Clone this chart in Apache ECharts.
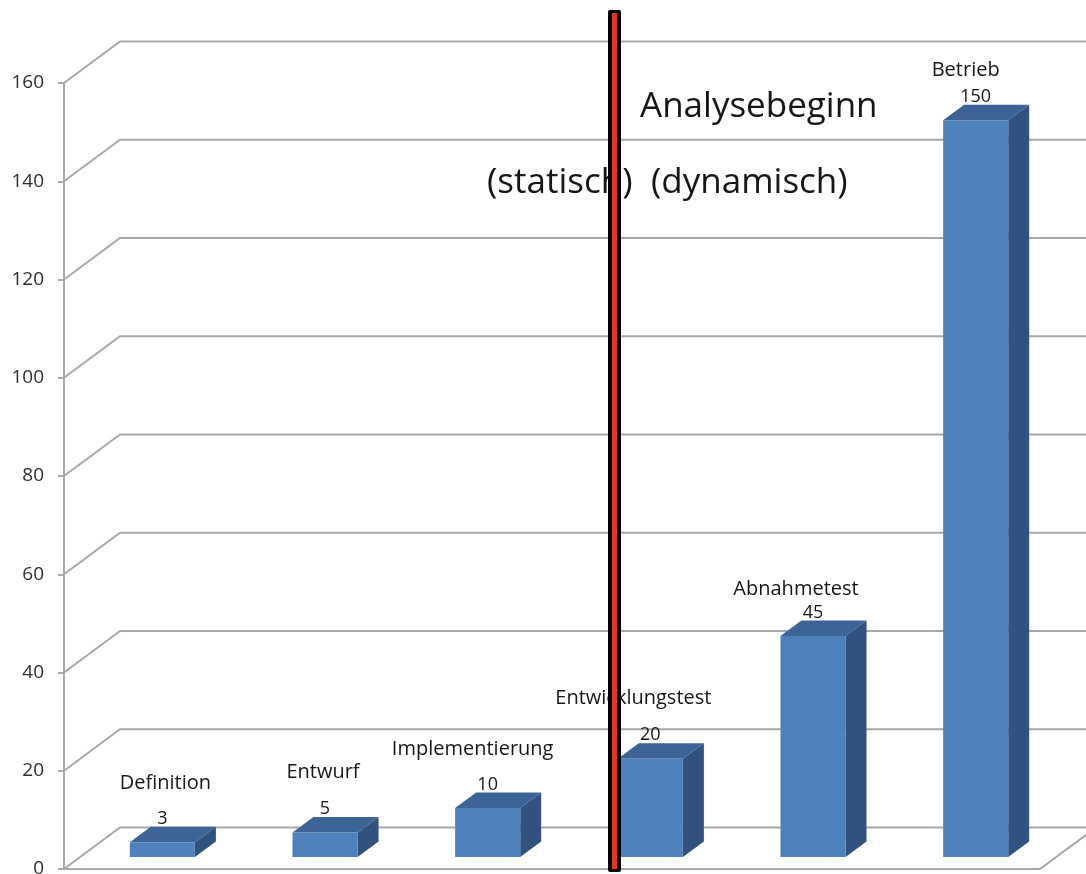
<!DOCTYPE html>
<html>
<head>
<meta charset="utf-8">
<script src="https://cdn.jsdelivr.net/npm/echarts@6/dist/echarts.min.js"></script>
<style>
  html, body { margin: 0; padding: 0; background: #ffffff; }
  #chart { width: 1086px; height: 874px; }
</style>
</head>
<body>
<div id="chart"></div>
<script>
// Fehlerbehebungskosten je Phase
const categories = ['Definition', 'Entwurf', 'Implementierung', 'Entwicklungstest', 'Abnahmetest', 'Betrieb'];
const costValues = [3, 5, 10, 20, 45, 150];
const yTicks = [0, 20, 40, 60, 80, 100, 120, 140, 160];

// Pseudo-3D layout (pixels)
const FLOOR_DX = 56, FLOOR_DY = 41.5;     // depth of the back wall
const BAR_SHIFT_X = 17, BAR_SHIFT_Y = 12;  // bars stand a bit behind the front edge
const BAR_DX = 21, BAR_DY = 15.5;          // bar depth
const BAR_RATIO = 0.4;                      // bar width / category width
// category label placement relative to the value label
const LABEL_NUDGE = [[3, -35], [-2, -36.5], [-15, -35], [-17, -37], [-17, -23.5], [-10, -26]];

const GRID_COLOR = '#a8a8a8';
const TEXT_COLOR = '#161616';
const FONT = '"Open Sans", "Noto Sans", sans-serif';

const chart = echarts.init(document.getElementById('chart'), null, { renderer: 'canvas' });

function renderWalls(params, api) {
  const cs = params.coordSys;
  const v = api.value(0);
  const y = api.coord([0, v])[1];
  const x0 = cs.x;
  const backY = y - FLOOR_DY;
  const children = [{
    type: 'polyline',
    shape: { points: [[x0, y], [x0 + FLOOR_DX, backY], [x0 + cs.width + FLOOR_DX + 40, backY]] },
    style: { stroke: GRID_COLOR, lineWidth: 2, fill: null }
  }];
  if (v === 0) {
    children.push({
      type: 'polyline',
      shape: { points: [[x0, y], [x0 + cs.width, y], [x0 + cs.width + FLOOR_DX, backY]] },
      style: { stroke: GRID_COLOR, lineWidth: 2, fill: null }
    });
  }
  return { type: 'group', children: children };
}

function renderBars(params, api) {
  const idx = api.value(0);
  const val = api.value(1);
  const base = api.coord([idx, 0]);
  const top = api.coord([idx, val]);
  const bw = api.size([1, 0])[0] * BAR_RATIO;
  const cx = base[0] + BAR_SHIFT_X;
  const xl = cx - bw / 2, xr = cx + bw / 2;
  const yb = base[1] - BAR_SHIFT_Y;
  const yt = top[1] - BAR_SHIFT_Y;
  const labelY = yt - BAR_DY - 8;
  const nudge = LABEL_NUDGE[idx];
  return {
    type: 'group',
    children: [
      { type: 'polygon',
        shape: { points: [[xr, yb], [xr + BAR_DX, yb - BAR_DY], [xr + BAR_DX, yt - BAR_DY], [xr, yt]] },
        style: { fill: '#31527e' } },
      { type: 'polygon',
        shape: { points: [[xl, yt], [xl + BAR_DX, yt - BAR_DY], [xr + BAR_DX, yt - BAR_DY], [xr, yt]] },
        style: { fill: '#3d6496' } },
      { type: 'rect',
        shape: { x: xl, y: yt, width: bw, height: yb - yt },
        style: { fill: '#4f81bd' } },
      { type: 'text',
        x: cx, y: labelY,
        style: { text: String(costValues[idx]), fill: TEXT_COLOR, font: '18px ' + FONT,
                 align: 'center', verticalAlign: 'middle', textAlign: 'center', textVerticalAlign: 'middle' } },
      { type: 'text',
        x: cx + nudge[0], y: labelY + nudge[1],
        style: { text: categories[idx], fill: TEXT_COLOR, font: '20px ' + FONT,
                 align: 'center', verticalAlign: 'middle', textAlign: 'center', textVerticalAlign: 'middle' } }
    ]
  };
}

const option = {
  backgroundColor: '#ffffff',
  animation: false,
  grid: { left: 64, top: 83, width: 976, height: 786, outerBoundsMode: 'none', containLabel: false },
  xAxis: {
    type: 'category',
    data: categories,
    axisLine: { show: false },
    axisTick: { show: false },
    axisLabel: { show: false },
    splitLine: { show: false }
  },
  yAxis: {
    type: 'value',
    min: 0, max: 160, interval: 20,
    axisLine: { show: true, lineStyle: { color: GRID_COLOR, width: 2 } },
    axisTick: { show: true, length: 6, lineStyle: { color: GRID_COLOR, width: 2 } },
    axisLabel: { color: '#2e2e2e', fontSize: 19, fontFamily: FONT, margin: 20 },
    splitLine: { show: false }
  },
  series: [
    {
      type: 'custom',
      name: 'walls',
      clip: false,
      silent: true,
      z: 1,
      data: yTicks.map(function (t) { return [t]; }),
      encode: { y: 0 },
      renderItem: renderWalls
    },
    {
      type: 'custom',
      name: 'Kosten',
      clip: false,
      z: 3,
      data: categories.map(function (c, i) { return [i, costValues[i]]; }),
      encode: { x: 0, y: 1 },
      renderItem: renderBars
    }
  ],
  graphic: [
    { type: 'text', left: 640, top: 90, z: 10,
      style: { text: 'Analysebeginn', fill: TEXT_COLOR, font: '35px ' + FONT } },
    { type: 'text', left: 487, top: 166, z: 10,
      style: { text: '(statisch)', fill: TEXT_COLOR, font: '35px ' + FONT } },
    { type: 'text', left: 651, top: 166, z: 10,
      style: { text: '(dynamisch)', fill: TEXT_COLOR, font: '35px ' + FONT } },
    { type: 'rect', left: 608, top: 10, z: 20,
      shape: { width: 13, height: 862, r: 2 },
      style: { fill: '#000000' } },
    { type: 'rect', left: 612, top: 13, z: 21,
      shape: { width: 5, height: 856 },
      style: { fill: '#e8341c' } }
  ]
};

chart.setOption(option);
</script>
</body>
</html>
